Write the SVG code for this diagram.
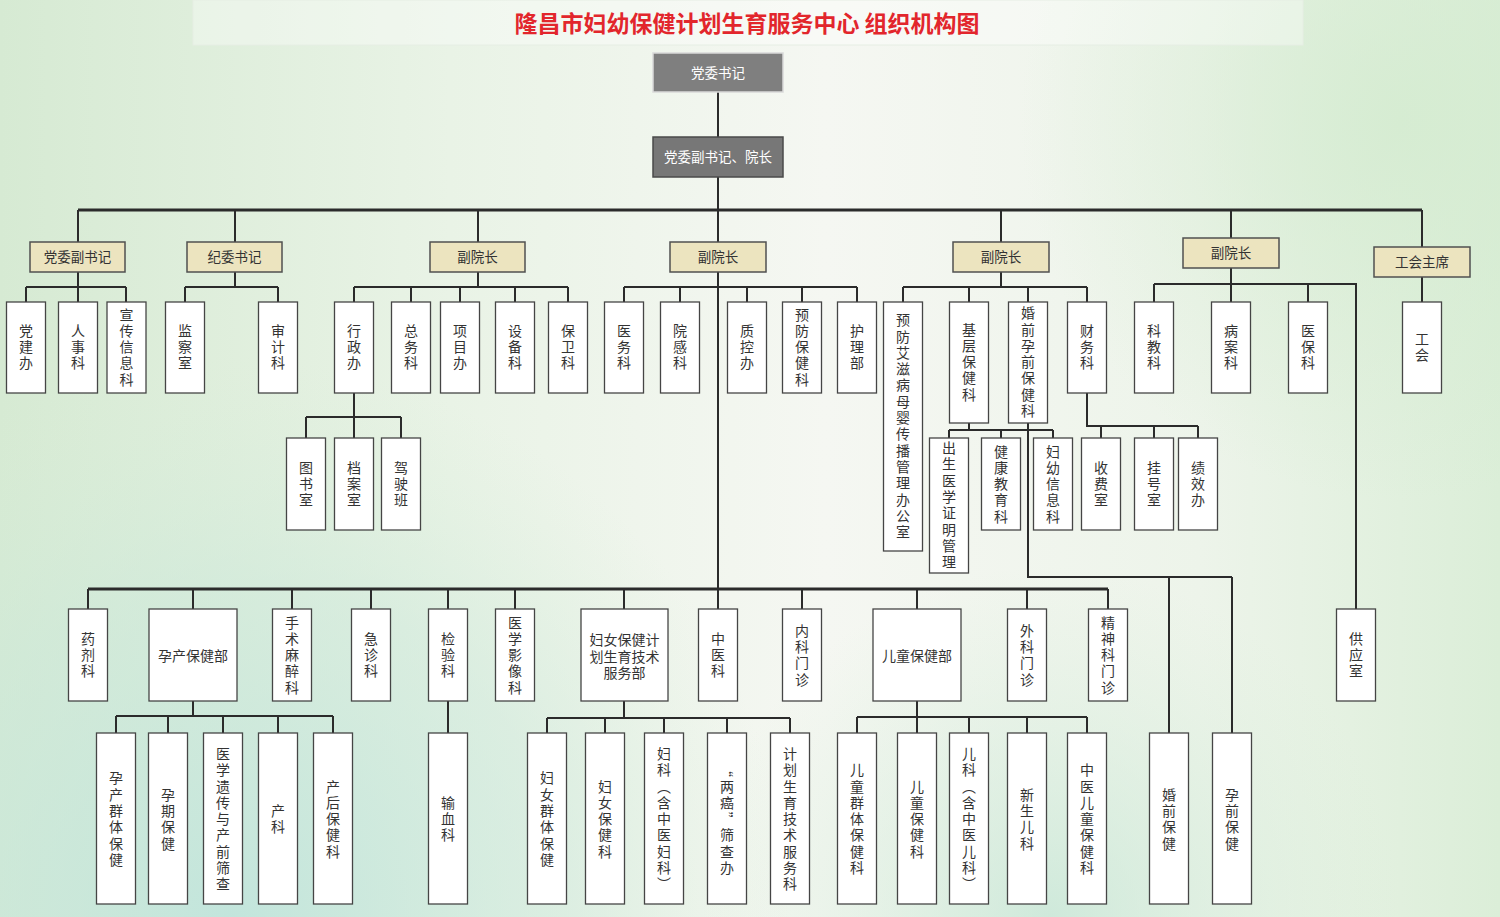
<svg xmlns="http://www.w3.org/2000/svg" width="1500" height="917" viewBox="0 0 1500 917">
<defs>
<linearGradient id="bgH" x1="0" y1="0" x2="1" y2="0">
<stop offset="0" stop-color="#d6ead3"/>
<stop offset="0.3" stop-color="#e9f3e6"/>
<stop offset="0.55" stop-color="#f5f7f2"/>
<stop offset="0.8" stop-color="#edf4ea"/>
<stop offset="1" stop-color="#dbeed8"/>
</linearGradient>
<radialGradient id="bgBL" cx="230" cy="917" r="560" gradientUnits="userSpaceOnUse">
<stop offset="0" stop-color="#bfe4dc" stop-opacity="0.9"/>
<stop offset="0.6" stop-color="#cbe8da" stop-opacity="0.5"/>
<stop offset="1" stop-color="#d8eed8" stop-opacity="0"/>
</radialGradient>
<radialGradient id="bgBR" cx="1050" cy="917" r="350" gradientUnits="userSpaceOnUse">
<stop offset="0" stop-color="#c6e6d6" stop-opacity="0.8"/>
<stop offset="1" stop-color="#d8eed8" stop-opacity="0"/>
</radialGradient>
<radialGradient id="bgTR" cx="1400" cy="120" r="380" gradientUnits="userSpaceOnUse">
<stop offset="0" stop-color="#d3ebcf" stop-opacity="0.8"/>
<stop offset="1" stop-color="#d3ebcf" stop-opacity="0"/>
</radialGradient>
<style>
.top{fill:#7f7f7f;stroke:#d9d9d9;stroke-width:1.5}
.top2{fill:#777;stroke:#4a4a4a;stroke-width:1.5}
.lead{fill:#ece4bf;stroke:#505050;stroke-width:1.5}
.leaf{fill:#fff;stroke:#454545;stroke-width:1.3}
.con{stroke:#2b2b2b;stroke-width:2;fill:none}
.thick{stroke:#2b2b2b;stroke-width:3;fill:none}
text{font-family:"Noto Sans CJK SC","Noto Sans",sans-serif}
.tw{font-size:13.5px;fill:#fff;text-anchor:middle}
.tl{font-size:13.5px;fill:#333;text-anchor:middle}
.th{font-size:14px;fill:#333;text-anchor:middle}
.v{font-size:14px;fill:#333;text-anchor:middle;writing-mode:vertical-rl;letter-spacing:2.3px}
.title{font-size:23px;font-weight:bold;fill:#e2262c;text-anchor:middle}
</style>
</defs>
<rect x="0" y="0" width="1500" height="917" fill="url(#bgH)"/>
<rect x="0" y="0" width="1500" height="917" fill="url(#bgTR)"/>
<rect x="0" y="0" width="1500" height="917" fill="url(#bgBR)"/>
<rect x="0" y="0" width="1500" height="917" fill="url(#bgBL)"/>
<g id="title">
<rect x="193" y="0" width="1110" height="45" fill="#ffffff" fill-opacity="0.35" stroke="#e6eee4" stroke-width="1"/>
<text class="title" x="747" y="32">隆昌市妇幼保健计划生育服务中心 组织机构图</text>
</g>
<g id="connectors">
<path class="con" d="M718 92V137M718 177V210"/>
<path class="thick" d="M78 210H1422"/>
<path class="con" d="M78 210V242M235 210V242M478 210V242M718 210V589M1001 210V242M1231 210V238M1422 210V247"/>
<path class="con" d="M78 272V287M26 287H126M26 287V302M78 287V302M126 287V302"/>
<path class="con" d="M235 272V287M185 287H278M185 287V302M278 287V302"/>
<path class="con" d="M478 272V287M354 287H568M354 287V302M411 287V302M460 287V302M515 287V302M568 287V302"/>
<path class="con" d="M354 393V417M306 417H401M306 417V438M354 417V438M401 417V438"/>
<path class="con" d="M624 287H857M624 287V302M680 287V302M747 287V302M802 287V302M857 287V302"/>
<path class="con" d="M1001 272V287M903 287H1087M903 287V302M969 287V302M1028 287V302M1087 287V302"/>
<path class="con" d="M969 423V430M949 430H1053M949 430V438M1001 430V438M1053 430V438"/>
<path class="con" d="M1028 423V577H1232M1169 577V733M1232 577V733"/>
<path class="con" d="M1087 393V426H1198M1101 426V438M1154 426V438M1198 426V438"/>
<path class="con" d="M1231 268V284M1154 284H1356V609M1154 284V302M1231 284V302M1308 284V302"/>
<path class="con" d="M1422 277V302"/>
<path class="thick" d="M88 589H1108"/>
<path class="con" d="M88 589V609M193 589V609M292 589V609M371 589V609M448 589V609M515 589V609M624 589V609M718 589V609M802 589V609M917 589V609M1027 589V609M1108 589V609"/>
<path class="con" d="M193 701V716M116 716H333M116 716V733M168 716V733M223 716V733M278 716V733M333 716V733"/>
<path class="con" d="M448 701V733"/>
<path class="con" d="M624 701V718M547 718H790M547 718V733M605 718V733M664 718V733M727 718V733M790 718V733"/>
<path class="con" d="M917 701V717M857 717H1087M857 717V733M917 717V733M969 717V733M1027 717V733M1087 717V733"/>
</g>
<g id="n-dwsj"><rect class="top" x="653" y="53" width="130" height="39"/><text class="tw" x="718" y="78">党委书记</text></g>
<g id="n-yz"><rect class="top2" x="653" y="137" width="130" height="40"/><text class="tw" x="718" y="162">党委副书记、院长</text></g>
<g id="l-dwfsj"><rect class="lead" x="30" y="242" width="95" height="30"/><text class="tl" x="77.5" y="262">党委副书记</text></g>
<g id="l-jwsj"><rect class="lead" x="187" y="242" width="95" height="30"/><text class="tl" x="234.5" y="262">纪委书记</text></g>
<g id="l-fyz1"><rect class="lead" x="430" y="242" width="95" height="30"/><text class="tl" x="477.5" y="262">副院长</text></g>
<g id="l-fyz2"><rect class="lead" x="670" y="242" width="96" height="30"/><text class="tl" x="718" y="262">副院长</text></g>
<g id="l-fyz3"><rect class="lead" x="953" y="242" width="96" height="30"/><text class="tl" x="1001" y="262">副院长</text></g>
<g id="l-fyz4"><rect class="lead" x="1183" y="238" width="96" height="30"/><text class="tl" x="1231" y="258">副院长</text></g>
<g id="l-ghzx"><rect class="lead" x="1374" y="247" width="96" height="30"/><text class="tl" x="1422" y="267">工会主席</text></g>
<g id="a1"><rect class="leaf" x="6.5" y="302" width="39" height="91"/><text class="v" x="26" y="348">党建办</text></g>
<g id="a2"><rect class="leaf" x="58.5" y="302" width="39" height="91"/><text class="v" x="78" y="348">人事科</text></g>
<g id="a3"><rect class="leaf" x="107" y="302" width="39" height="91"/><text class="v" x="126.5" y="348">宣传信息科</text></g>
<g id="a4"><rect class="leaf" x="165.5" y="302" width="39" height="91"/><text class="v" x="185" y="348">监察室</text></g>
<g id="a5"><rect class="leaf" x="258.5" y="302" width="39" height="91"/><text class="v" x="278" y="348">审计科</text></g>
<g id="a6"><rect class="leaf" x="334.5" y="302" width="39" height="91"/><text class="v" x="354" y="348">行政办</text></g>
<g id="a7"><rect class="leaf" x="391.5" y="302" width="39" height="91"/><text class="v" x="411" y="348">总务科</text></g>
<g id="a8"><rect class="leaf" x="440.5" y="302" width="39" height="91"/><text class="v" x="460" y="348">项目办</text></g>
<g id="a9"><rect class="leaf" x="495.5" y="302" width="39" height="91"/><text class="v" x="515" y="348">设备科</text></g>
<g id="a10"><rect class="leaf" x="548.5" y="302" width="39" height="91"/><text class="v" x="568" y="348">保卫科</text></g>
<g id="a11"><rect class="leaf" x="604.5" y="302" width="39" height="91"/><text class="v" x="624" y="348">医务科</text></g>
<g id="a12"><rect class="leaf" x="660.5" y="302" width="39" height="91"/><text class="v" x="680" y="348">院感科</text></g>
<g id="a13"><rect class="leaf" x="727.5" y="302" width="39" height="91"/><text class="v" x="747" y="348">质控办</text></g>
<g id="a14"><rect class="leaf" x="782.5" y="302" width="39" height="91"/><text class="v" x="802" y="348">预防保健科</text></g>
<g id="a15"><rect class="leaf" x="837.5" y="302" width="39" height="91"/><text class="v" x="857" y="348">护理部</text></g>
<g id="a16"><rect class="leaf" x="883.5" y="302" width="39" height="249"/><text class="v" x="903" y="427">预防艾滋病母婴传播管理办公室</text></g>
<g id="a17"><rect class="leaf" x="949.5" y="302" width="39" height="121"/><text class="v" x="969" y="363">基层保健科</text></g>
<g id="a18"><rect class="leaf" x="1008.5" y="302" width="39" height="121"/><text class="v" x="1028" y="363">婚前孕前保健科</text></g>
<g id="a19"><rect class="leaf" x="1067.5" y="302" width="39" height="91"/><text class="v" x="1087" y="348">财务科</text></g>
<g id="a20"><rect class="leaf" x="1134.5" y="302" width="39" height="91"/><text class="v" x="1154" y="348">科教科</text></g>
<g id="a21"><rect class="leaf" x="1211.5" y="302" width="39" height="91"/><text class="v" x="1231" y="348">病案科</text></g>
<g id="a22"><rect class="leaf" x="1288.5" y="302" width="39" height="91"/><text class="v" x="1308" y="348">医保科</text></g>
<g id="a23"><rect class="leaf" x="1402.5" y="302" width="39" height="91"/><text class="v" x="1422" y="348">工会</text></g>
<g id="b1"><rect class="leaf" x="286.5" y="438" width="39" height="92"/><text class="v" x="306" y="485">图书室</text></g>
<g id="b2"><rect class="leaf" x="334.5" y="438" width="39" height="92"/><text class="v" x="354" y="485">档案室</text></g>
<g id="b3"><rect class="leaf" x="381.5" y="438" width="39" height="92"/><text class="v" x="401" y="485">驾驶班</text></g>
<g id="b4"><rect class="leaf" x="929.5" y="438" width="39" height="135"/><text class="v" x="949" y="506">出生医学证明管理</text></g>
<g id="b5"><rect class="leaf" x="981.5" y="438" width="39" height="92"/><text class="v" x="1001" y="485">健康教育科</text></g>
<g id="b6"><rect class="leaf" x="1033.5" y="438" width="39" height="92"/><text class="v" x="1053" y="485">妇幼信息科</text></g>
<g id="b7"><rect class="leaf" x="1081.5" y="438" width="39" height="92"/><text class="v" x="1101" y="485">收费室</text></g>
<g id="b8"><rect class="leaf" x="1134.5" y="438" width="39" height="92"/><text class="v" x="1154" y="485">挂号室</text></g>
<g id="b9"><rect class="leaf" x="1178.5" y="438" width="39" height="92"/><text class="v" x="1198" y="485">绩效办</text></g>
<g id="c1"><rect class="leaf" x="68.5" y="609" width="39" height="92"/><text class="v" x="88" y="656">药剂科</text></g>
<g id="c2"><rect class="leaf" x="149" y="609" width="88" height="92"/><text class="th" x="193" y="661">孕产保健部</text></g>
<g id="c3"><rect class="leaf" x="272.5" y="609" width="39" height="92"/><text class="v" x="292" y="656">手术麻醉科</text></g>
<g id="c4"><rect class="leaf" x="351.5" y="609" width="39" height="92"/><text class="v" x="371" y="656">急诊科</text></g>
<g id="c5"><rect class="leaf" x="428.5" y="609" width="39" height="92"/><text class="v" x="448" y="656">检验科</text></g>
<g id="c6"><rect class="leaf" x="495.5" y="609" width="39" height="92"/><text class="v" x="515" y="656">医学影像科</text></g>
<g id="c7"><rect class="leaf" x="581" y="609" width="87" height="92"/><text class="th" x="624.5" y="645">妇女保健计<tspan x="624.5" dy="16.5">划生育技术</tspan><tspan x="624.5" dy="16.5">服务部</tspan></text></g>
<g id="c8"><rect class="leaf" x="698.5" y="609" width="39" height="92"/><text class="v" x="718" y="656">中医科</text></g>
<g id="c9"><rect class="leaf" x="782.5" y="609" width="39" height="92"/><text class="v" x="802" y="656">内科门诊</text></g>
<g id="c10"><rect class="leaf" x="873" y="609" width="88" height="92"/><text class="th" x="917" y="661">儿童保健部</text></g>
<g id="c11"><rect class="leaf" x="1007.5" y="609" width="39" height="92"/><text class="v" x="1027" y="656">外科门诊</text></g>
<g id="c12"><rect class="leaf" x="1088.5" y="609" width="39" height="92"/><text class="v" x="1108" y="656">精神科门诊</text></g>
<g id="c13"><rect class="leaf" x="1336.5" y="609" width="39" height="92"/><text class="v" x="1356" y="656">供应室</text></g>
<g id="d1"><rect class="leaf" x="96.5" y="733" width="39" height="171"/><text class="v" x="116" y="820">孕产群体保健</text></g>
<g id="d2"><rect class="leaf" x="148.5" y="733" width="39" height="171"/><text class="v" x="168" y="820">孕期保健</text></g>
<g id="d3"><rect class="leaf" x="203.5" y="733" width="39" height="171"/><text class="v" x="223" y="820">医学遗传与产前筛查</text></g>
<g id="d4"><rect class="leaf" x="258.5" y="733" width="39" height="171"/><text class="v" x="278" y="820">产科</text></g>
<g id="d5"><rect class="leaf" x="313.5" y="733" width="39" height="171"/><text class="v" x="333" y="820">产后保健科</text></g>
<g id="d6"><rect class="leaf" x="428.5" y="733" width="39" height="171"/><text class="v" x="448" y="820">输血科</text></g>
<g id="d7"><rect class="leaf" x="527.5" y="733" width="39" height="171"/><text class="v" x="547" y="820">妇女群体保健</text></g>
<g id="d8"><rect class="leaf" x="585.5" y="733" width="39" height="171"/><text class="v" x="605" y="820">妇女保健科</text></g>
<g id="d9"><rect class="leaf" x="644.5" y="733" width="39" height="171"/><text class="v" x="664" y="820">妇科（含中医妇科）</text></g>
<g id="d10"><rect class="leaf" x="707.5" y="733" width="39" height="171"/><text class="v" x="727" y="820">“两癌”筛查办</text></g>
<g id="d11"><rect class="leaf" x="770.5" y="733" width="39" height="171"/><text class="v" x="790" y="820">计划生育技术服务科</text></g>
<g id="d12"><rect class="leaf" x="837.5" y="733" width="39" height="171"/><text class="v" x="857" y="820">儿童群体保健科</text></g>
<g id="d13"><rect class="leaf" x="897.5" y="733" width="39" height="171"/><text class="v" x="917" y="820">儿童保健科</text></g>
<g id="d14"><rect class="leaf" x="949.5" y="733" width="39" height="171"/><text class="v" x="969" y="820">儿科（含中医儿科）</text></g>
<g id="d15"><rect class="leaf" x="1007.5" y="733" width="39" height="171"/><text class="v" x="1027" y="820">新生儿科</text></g>
<g id="d16"><rect class="leaf" x="1067.5" y="733" width="39" height="171"/><text class="v" x="1087" y="820">中医儿童保健科</text></g>
<g id="d17"><rect class="leaf" x="1149.5" y="733" width="39" height="171"/><text class="v" x="1169" y="820">婚前保健</text></g>
<g id="d18"><rect class="leaf" x="1212.5" y="733" width="39" height="171"/><text class="v" x="1232" y="820">孕前保健</text></g>
</svg>
